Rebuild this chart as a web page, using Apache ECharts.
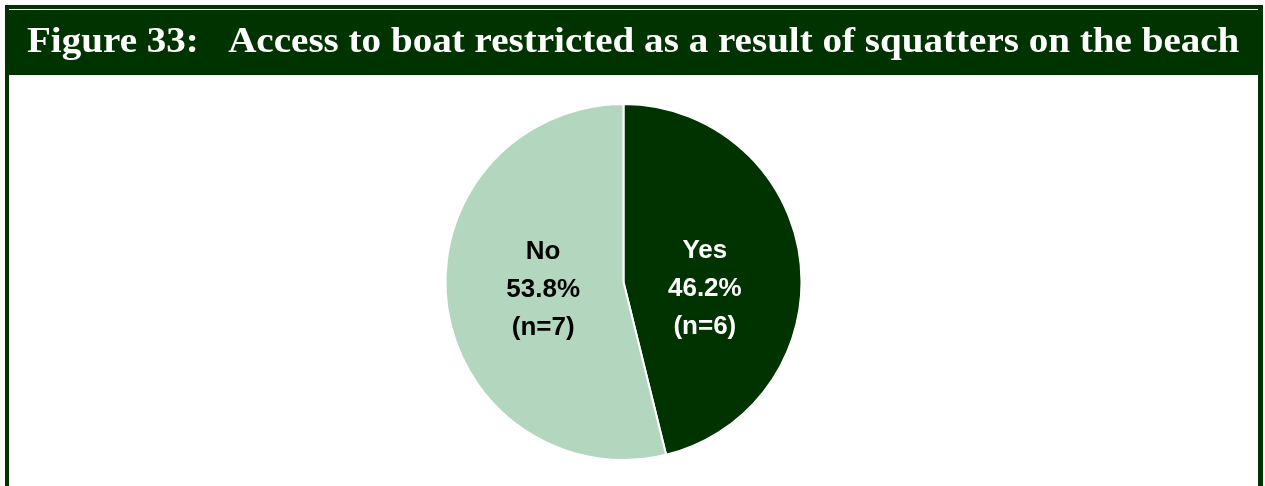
<!DOCTYPE html>
<html>
<head>
<meta charset="utf-8">
<script src="https://cdn.jsdelivr.net/npm/echarts@6/dist/echarts.min.js"></script>
<style>
html,body{margin:0;padding:0;background:#fff;}
#c{width:1265px;height:486px;}
</style>
</head>
<body>
<div id="c"></div>
<script>
var titleText = 'Figure 33:   Access to boat restricted as a result of squatters on the beach';
var categories = ['Yes', 'No'];
var counts = [6, 7];
var percents = [46.2, 53.8];

var DARK = '#003300';
var LIGHT = '#B3D7BE';

var chart = echarts.init(document.getElementById('c'), null, {renderer: 'canvas'});

var titleFont = '"Liberation Serif", "Times New Roman", serif';
var mc = document.createElement('canvas').getContext('2d');
mc.font = 'bold 100px ' + titleFont;
var w100 = mc.measureText(titleText).width;
var titleSize = 100 * 1213 / w100;
var capH = 0.66 * titleSize;
var sy = 24 / capH;

var data = categories.map(function (c, i) {
  return {
    name: c,
    value: counts[i],
    pct: percents[i]
  };
});

var labelStyles = [
  {color: '#ffffff', offset: [-10, 18]},
  {color: '#000000', offset: [11, -3]}
];

chart.setOption({
  animation: false,
  backgroundColor: '#ffffff',
  graphic: [
    {type: 'rect', shape: {x: 5, y: 5, width: 1258, height: 520}, style: {fill: DARK}, z: 0},
    {type: 'rect', shape: {x: 9, y: 9, width: 1249, height: 1}, style: {fill: '#ffffff'}, z: 1},
    {type: 'rect', shape: {x: 9, y: 75, width: 1249, height: 520}, style: {fill: '#ffffff'}, z: 1},
    {
      type: 'text', x: 27, y: 43, originX: 0, originY: 0, scaleY: sy, z: 2,
      style: {
        text: titleText, fill: '#ffffff',
        font: 'bold ' + titleSize.toFixed(2) + 'px ' + titleFont,
        textAlign: 'left', textVerticalAlign: 'middle', verticalAlign: 'middle'
      }
    }
  ],
  series: [{
    type: 'pie',
    center: [623.5, 282],
    radius: [0, 178],
    startAngle: 90,
    clockwise: true,
    z: 3,
    itemStyle: {borderColor: '#ffffff', borderWidth: 2},
    color: [DARK, LIGHT],
    labelLine: {show: false},
    data: data.map(function (d, i) {
      return {
        name: d.name, value: d.value, pct: d.pct,
        label: {color: labelStyles[i].color, offset: labelStyles[i].offset}
      };
    }),
    label: {
      show: true,
      position: 'inner',
      fontFamily: '"Liberation Sans", Arial, sans-serif',
      fontWeight: 'bold',
      fontSize: 26,
      lineHeight: 38,
      formatter: function (p) {
        return p.name + '\n' + p.data.pct.toFixed(1) + '%\n(n=' + p.value + ')';
      }
    }
  }]
});
</script>
</body>
</html>
